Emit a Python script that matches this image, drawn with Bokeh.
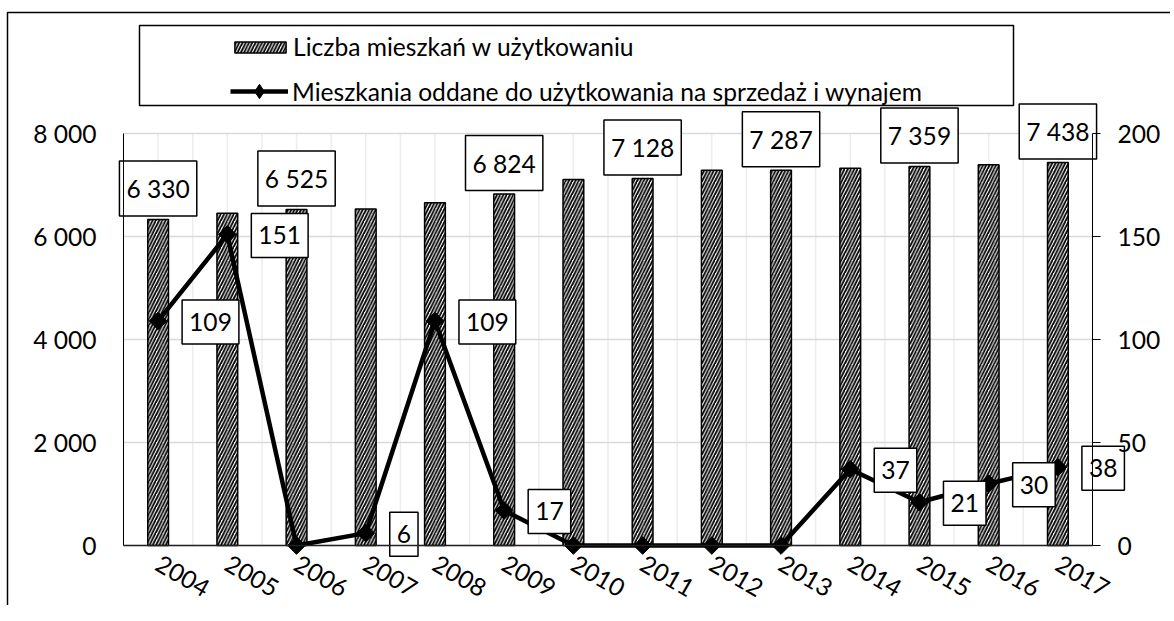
import math
from bokeh.plotting import figure
from bokeh.models import (Range1d, LinearAxis, FixedTicker,
                          Legend, LegendItem, BoxAnnotation, ColumnDataSource)
from bokeh.core.properties import value
from bokeh.embed import file_html
from bokeh.resources import INLINE

# ---- data ----
years = ["2004", "2005", "2006", "2007", "2008", "2009", "2010",
         "2011", "2012", "2013", "2014", "2015", "2016", "2017"]
stock = [6330, 6450, 6525, 6535, 6655, 6824, 7105,
         7128, 7285, 7287, 7325, 7359, 7395, 7438]
sold = [109, 151, 0, 6, 109, 17, 0, 0, 0, 0, 37, 21, 30, 38]
stock_label_years = ["2004", "2006", "2009", "2011", "2013", "2015", "2017"]
left_ticks = [0, 2000, 4000, 6000, 8000]
left_tick_labels = ["0", "2 000", "4 000", "6 000", "8 000"]
right_ticks = [0, 50, 100, 150, 200]
legend_labels = ["Liczba mieszkań w użytkowaniu",
                 "Mieszkania oddane do użytkowania na sprzedaż i wynajem"]


def fmt(v):
    return f"{v:,}".replace(",", " ")


FONT = "Lato"
FS = "24.6px"
W, H = 1170, 605

# ---- layout (canvas pixels) ----
N = len(years)
PX_LEFT, PX_RIGHT = 123, 1092      # plot area left / right edge
PY_TOP, PY_ZERO = 133, 545         # y of top value / zero line
YMAX_L, YMAX_R = left_ticks[-1], right_ticks[-1]
ppx = (PX_RIGHT - PX_LEFT) / N
ppy = (PY_ZERO - PY_TOP) / YMAX_L
x0 = -PX_LEFT / ppx
x1 = N + (W - PX_RIGHT) / ppx
y1 = YMAX_L + PY_TOP / ppy
y0 = -(H - PY_ZERO) / ppy
rscale = YMAX_R / YMAX_L


def cx(px):
    return x0 + px / ppx


def cy(py):
    return y1 - py / ppy


p = figure(width=W, height=H, x_range=Range1d(x0, x1), y_range=Range1d(y0, y1),
           output_backend="svg", toolbar_location=None,
           x_axis_location=None, y_axis_location=None,
           min_border=0, min_border_left=0, min_border_right=0,
           min_border_top=0, min_border_bottom=0)
p.outline_line_color = None
p.background_fill_color = "white"
p.border_fill_color = "white"
p.grid.visible = False
p.extra_y_ranges = {"right": Range1d(y0 * rscale, y1 * rscale)}

xpos = [i + 0.5 for i in range(N)]

# grid lines (styling)
half = [i * 0.5 for i in range(2 * N + 1)]
p.segment(x0=half, x1=half, y0=[0] * len(half), y1=[YMAX_L] * len(half),
          line_color="#ededed", line_width=1.5, level="underlay")
p.segment(x0=[0] * len(left_ticks), x1=[N] * len(left_ticks), y0=left_ticks, y1=left_ticks,
          line_color="#d9d9d9", line_width=1.5, level="underlay")

# axes
yl = LinearAxis(ticker=FixedTicker(ticks=left_ticks), fixed_location=0, bounds=(0, YMAX_L))
yl.major_label_overrides = {t: l for t, l in zip(left_ticks, left_tick_labels)}
yl.major_tick_out = 0
yl.major_tick_in = 0
yl.minor_tick_out = 0
yl.minor_tick_in = 0
yl.axis_line_color = "black"
yl.axis_line_width = 1
yl.major_label_standoff = 27
yl.major_label_text_font = FONT
yl.major_label_text_font_size = FS
yl.major_label_text_color = "black"
p.add_layout(yl, "left")

yr = LinearAxis(y_range_name="right", ticker=FixedTicker(ticks=right_ticks),
                fixed_location=N, bounds=(0, YMAX_R))
yr.major_tick_out = 8
yr.major_tick_in = 0
yr.minor_tick_out = 0
yr.minor_tick_in = 0
yr.axis_line_color = "black"
yr.major_tick_line_color = "black"
yr.major_label_standoff = 17
yr.major_label_text_font = FONT
yr.major_label_text_font_size = FS
yr.major_label_text_color = "black"
p.add_layout(yr, "right")

xa = LinearAxis(ticker=FixedTicker(ticks=xpos), fixed_location=0, bounds=(0, N))
xa.major_label_overrides = {x: y for x, y in zip(xpos, years)}
xa.major_tick_out = 0
xa.major_tick_in = 0
xa.minor_tick_out = 0
xa.minor_tick_in = 0
xa.axis_line_color = "#222222"
xa.axis_line_width = 1.5
xa.major_label_orientation = -math.pi / 6
xa.major_label_standoff = 16
xa.major_label_text_font = FONT
xa.major_label_text_font_size = FS
xa.major_label_text_color = "black"
p.add_layout(xa, "below")

# data sources
src = ColumnDataSource(dict(x=xpos, year=years, stock=stock, sold=sold))
lab_idx = [years.index(y) for y in stock_label_years]
src_lab = ColumnDataSource(dict(x=[xpos[i] for i in lab_idx],
                                stock=[stock[i] for i in lab_idx],
                                txt=[fmt(stock[i]) for i in lab_idx]))
nz = [i for i, v in enumerate(sold) if v != 0]
src_sold_lab = ColumnDataSource(dict(x=[xpos[i] for i in nz],
                                     sold=[sold[i] for i in nz],
                                     txt=[str(sold[i]) for i in nz]))

bars = p.vbar(x="x", top="stock", width=0.3, source=src,
              fill_color="white", line_color="black", line_width=1.5,
              hatch_pattern="/", hatch_color="black", hatch_scale=6.5, hatch_weight=1.8)

line = p.line(x="x", y="sold", source=src, y_range_name="right",
              line_color="black", line_width=4.5)
# diamond markers (drawn under the rotated squares; used as the legend sample)
diam = p.scatter(x="x", y="sold", source=src, y_range_name="right",
                 marker="diamond", size=10, fill_color="black", line_color="black")
marks = p.scatter(x="x", y="sold", source=src, y_range_name="right",
                  marker="square", angle=math.pi / 4, size=12.5,
                  fill_color="black", line_color="black")

pad = dict(left=7, right=7, top=13, bottom=13)
p.text(x="x", y="stock", text="txt", source=src_lab,
       text_align="center", text_baseline="middle", y_offset=-31,
       text_font=value(FONT), text_font_size=FS, text_color="black",
       background_fill_color="white", border_line_color="black", border_line_width=1.5,
       padding=pad)

p.text(x="x", y="sold", text="txt", source=src_sold_lab, y_range_name="right",
       text_align="left", text_baseline="middle", x_offset=24, y_offset=1,
       text_font=value(FONT), text_font_size=FS, text_color="black",
       background_fill_color="white", border_line_color="black", border_line_width=1.5,
       padding=pad)

# legends (two, so each sample gets its own glyph size)
leg_common = dict(orientation="vertical", padding=0, margin=0,
                  border_line_alpha=0, background_fill_alpha=0,
                  label_text_font=FONT, label_text_font_size=FS, label_text_color="black")
legend1 = Legend(items=[LegendItem(label=legend_labels[0], renderers=[bars])],
                 location=(228, H - 61), glyph_width=64, glyph_height=14,
                 label_height=28, label_standoff=1, **leg_common)
legend2 = Legend(items=[LegendItem(label=legend_labels[1], renderers=[line, diam])],
                 location=(230, H - 109), glyph_width=58, glyph_height=36,
                 label_height=36, label_standoff=4, **leg_common)
p.add_layout(legend1, "center")
p.add_layout(legend2, "center")

legend_box = BoxAnnotation(left=cx(139), right=cx(1013), top=cy(25), bottom=cy(105),
                           fill_alpha=0, line_color="black", line_width=1.5, line_alpha=1)
p.add_layout(legend_box)
outer_box = BoxAnnotation(left=cx(7), right=cx(W + 50), top=cy(12), bottom=cy(H + 50),
                          fill_alpha=0, line_color="black", line_width=1.5, line_alpha=1)
p.add_layout(outer_box)

open("out.html", "w").write(file_html(p, INLINE))
